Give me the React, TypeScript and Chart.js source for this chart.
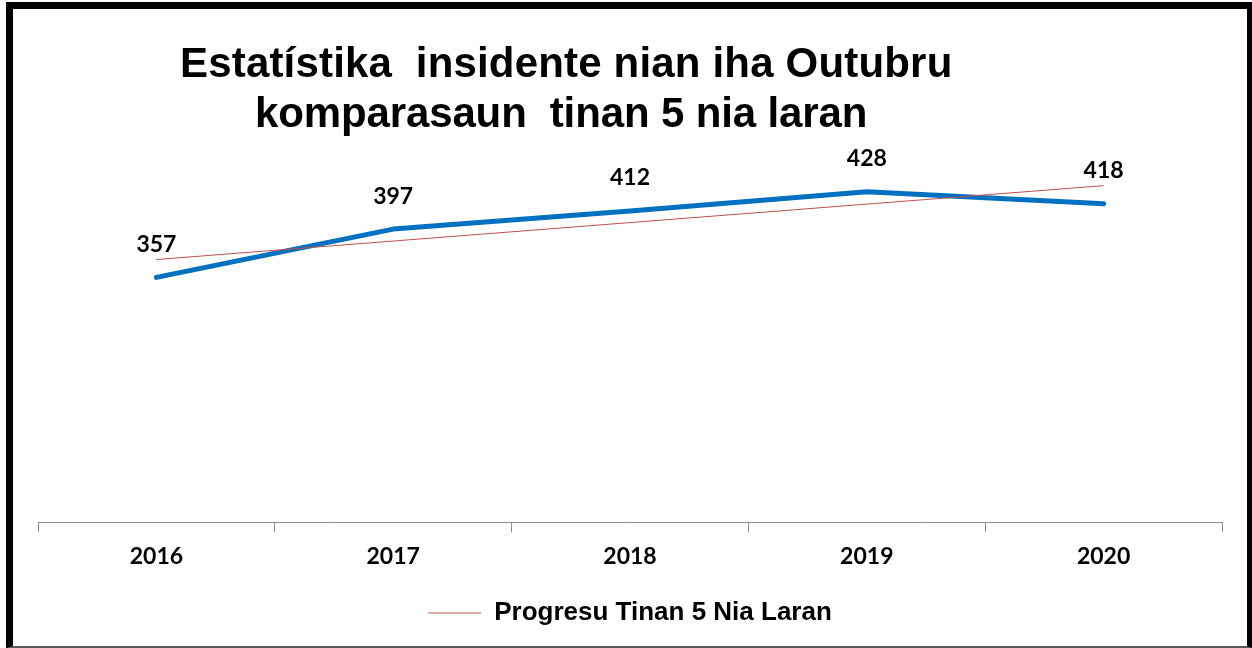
import React, { useEffect, useRef } from "react";
import { Chart, registerables } from "chart.js";

Chart.register(...registerables);

const years = ["2016", "2017", "2018", "2019", "2020"];
const incidents = [357, 397, 412, 428, 418];
const trendValues = [371.8, 387.1, 402.4, 417.7, 433.0];
const titleLine1 = "Estatístika  insidente nian iha Outubru";
const titleLine2 = "komparasaun  tinan 5 nia laran";
const trendLabel = "Progresu Tinan 5 Nia Laran";
const seriesLabel = "Insidente";
const yMin = 154;
const yMax = 470;

export default function App() {
  const ref = useRef<HTMLCanvasElement>(null);

  useEffect(() => {
    document.body.style.margin = "0";
    document.body.style.overflow = "hidden";

    const valueLabels = {
      id: "valueLabels",
      afterDatasetsDraw(chart: any) {
        const ctx = chart.ctx;
        const meta = chart.getDatasetMeta(1);
        ctx.save();
        ctx.font = "bold 23px Lato";
        ctx.fillStyle = "#000";
        ctx.textAlign = "center";
        ctx.textBaseline = "middle";
        meta.data.forEach((pt: any, i: number) => {
          ctx.fillText(String(incidents[i]), pt.x, pt.y - 33);
        });
        ctx.restore();
      },
    };

    const chart = new Chart(ref.current!, {
      type: "line",
      data: {
        labels: years,
        datasets: [
          {
            label: trendLabel,
            data: trendValues,
            borderColor: "#C0504D",
            backgroundColor: "#C0504D",
            borderWidth: 1,
            pointRadius: 0,
            tension: 0,
          },
          {
            label: seriesLabel,
            data: incidents,
            borderColor: "#0070C0",
            backgroundColor: "#0070C0",
            borderWidth: 5,
            pointRadius: 0,
            tension: 0,
            borderJoinStyle: "round",
            borderCapStyle: "round",
          },
        ],
      },
      options: {
        responsive: false,
        animation: false,
        layout: { padding: { left: 38, right: 30, top: 141, bottom: 12 } },
        plugins: {
          legend: {
            position: "bottom",
            labels: {
              filter: (it: any) => it.datasetIndex === 0,
              usePointStyle: true,
              pointStyle: "line",
              pointStyleWidth: 53,
              color: "#000",
              padding: 10,
              font: { family: "'Liberation Sans', Arial, sans-serif", size: 26, weight: "bold" },
            },
          },
          tooltip: { enabled: false },
          title: { display: false },
        },
        scales: {
          x: {
            offset: true,
            grid: {
              display: true,
              drawOnChartArea: false,
              drawTicks: true,
              tickLength: 10,
              color: "#8c8c8c",
              offset: true,
            },
            border: { display: true, color: "#8c8c8c", width: 1 },
            ticks: {
              color: "#000",
              padding: 10,
              font: { family: "Lato", size: 23, weight: "bold" },
            },
            afterFit: (s: any) => {
              s.height += 10;
            },
          },
          y: { display: false, min: yMin, max: yMax },
        },
      },
      plugins: [valueLabels],
    } as any);
    return () => chart.destroy();
  }, []);

  const titleStyle: React.CSSProperties = {
    position: "absolute",
    fontFamily: "'Liberation Sans', Arial, sans-serif",
    fontWeight: "bold",
    fontSize: "42px",
    lineHeight: "50px",
    whiteSpace: "pre",
    color: "#000",
  };

  return (
    <div style={{ position: "relative", width: 1252, height: 648, background: "#fff", overflow: "hidden" }}>
      <div
        style={{
          position: "absolute",
          left: 6,
          top: 2,
          width: 1246,
          height: 646,
          boxSizing: "border-box",
          borderTop: "7px solid #000",
          borderLeft: "7px solid #000",
          borderRight: "5px solid #000",
          borderBottom: "2px solid #595959",
        }}
      />
      <canvas ref={ref} width={1252} height={648} style={{ position: "absolute", left: 0, top: 0 }} />
      <div style={{ ...titleStyle, left: 180, top: 38, letterSpacing: "0.18px" }}>{titleLine1}</div>
      <div style={{ ...titleStyle, left: 255, top: 88, letterSpacing: "-0.13px" }}>{titleLine2}</div>
    </div>
  );
}
